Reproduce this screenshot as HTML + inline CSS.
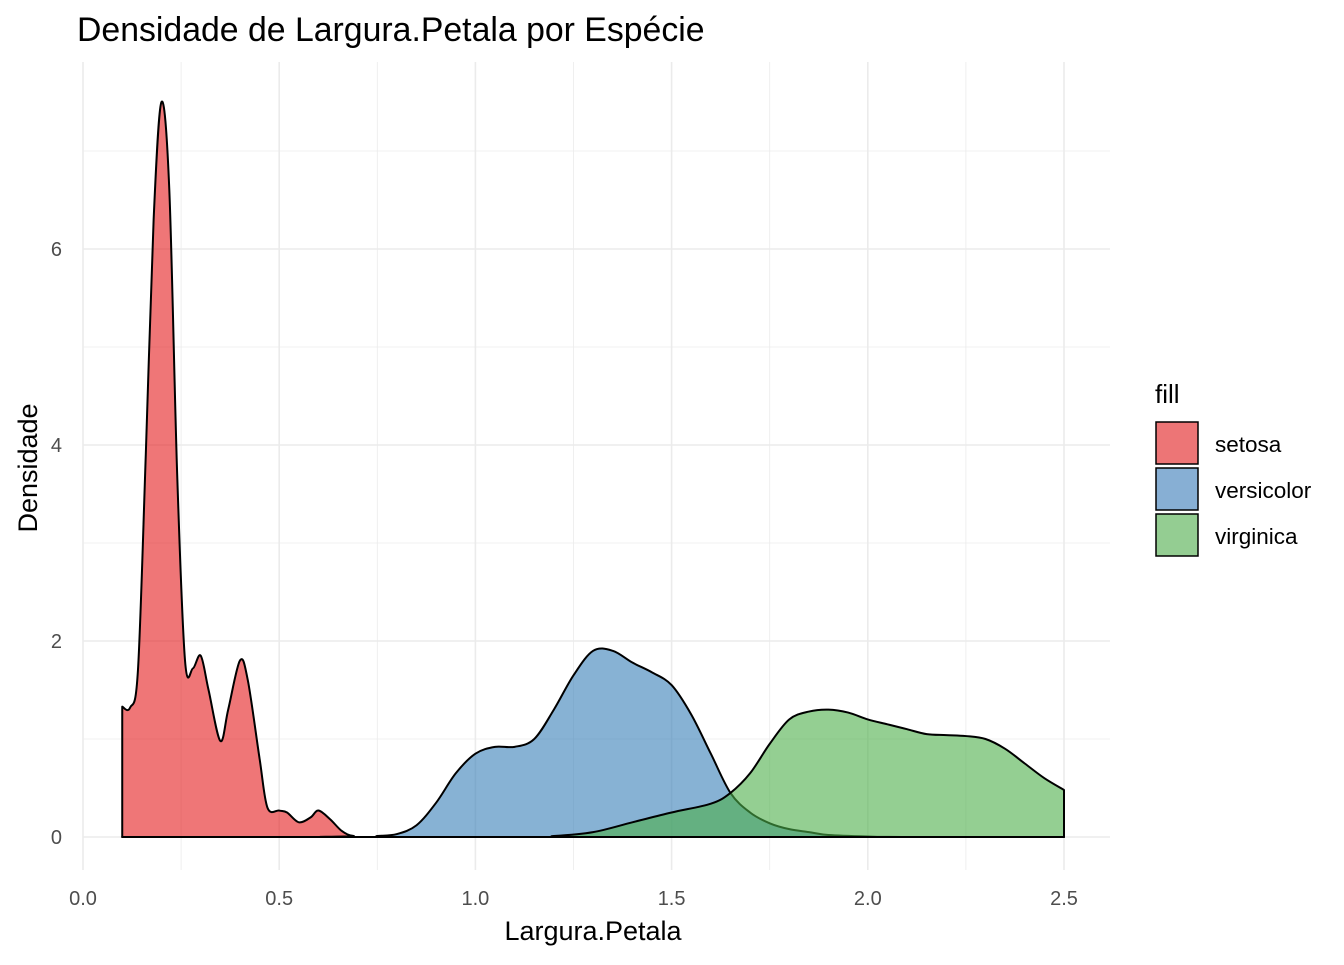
<!DOCTYPE html>
<html><head><meta charset="utf-8"><style>
body{margin:0;background:#fff;}
svg text{font-family:"Liberation Sans",Arial,sans-serif;}
</style></head><body>
<svg id="chart" width="1344" height="960">
<rect width="1344" height="960" fill="#fff"/>
<text x="77" y="41" font-size="33.8" fill="#000">Densidade de Largura.Petala por Espécie</text>
<g id="grid"></g>
<g id="areas"></g>
<g id="axes"></g>
<text x="593" y="940" font-size="27" text-anchor="middle" fill="#000">Largura.Petala</text>
<text transform="translate(37,468) rotate(-90)" font-size="27" text-anchor="middle" fill="#000">Densidade</text>
<g>
<text x="1155" y="403" font-size="26" fill="#000">fill</text>
<g><rect x="1156" y="422" width="42" height="42" fill="#ED7576" stroke="#000" stroke-width="1.5"/><text x="1215" y="452" font-size="22.5">setosa</text></g>
<g><rect x="1156" y="468" width="42" height="42" fill="#87AFD4" stroke="#000" stroke-width="1.5"/><text x="1215" y="498" font-size="22.5">versicolor</text></g>
<g><rect x="1156" y="514" width="42" height="42" fill="#94CD92" stroke="#000" stroke-width="1.5"/><text x="1215" y="544" font-size="22.5">virginica</text></g>
</g>
</svg>
<script>
const setosaX=[0.10,0.12,0.14,0.16,0.18,0.20,0.22,0.24,0.26,0.28,0.30,0.32,0.35,0.37,0.40,0.42,0.45,0.47,0.50,0.52,0.55,0.58,0.60,0.63,0.66,0.69,0.75,2.5];
const setosaY=[1.33,1.32,1.7,3.9,6.3,7.5,6.6,3.7,1.8,1.72,1.85,1.5,0.98,1.3,1.8,1.6,0.8,0.3,0.27,0.25,0.15,0.2,0.27,0.18,0.06,0.01,0,0];
const versiX=[0.1,0.7,0.75,0.8,0.85,0.9,0.95,1.0,1.05,1.1,1.15,1.2,1.25,1.3,1.35,1.4,1.45,1.5,1.55,1.6,1.65,1.7,1.75,1.8,1.85,1.9,2.0,2.1,2.5];
const versiY=[0,0,0.01,0.03,0.12,0.35,0.65,0.85,0.92,0.92,1.0,1.3,1.65,1.9,1.9,1.78,1.68,1.55,1.25,0.85,0.45,0.25,0.14,0.08,0.05,0.02,0.005,0,0];
const virgX=[0.1,1.1,1.2,1.3,1.4,1.5,1.6,1.65,1.7,1.75,1.8,1.85,1.9,1.95,2.0,2.05,2.1,2.15,2.2,2.25,2.3,2.35,2.4,2.45,2.5];
const virgY=[0,0,0.01,0.05,0.15,0.25,0.34,0.45,0.65,0.95,1.2,1.28,1.3,1.27,1.2,1.15,1.1,1.05,1.04,1.03,1.0,0.9,0.75,0.6,0.48];
const xTicks=[0,0.5,1.0,1.5,2.0,2.5];
const xTickLabels=["0.0","0.5","1.0","1.5","2.0","2.5"];
const yTicks=[0,2,4,6];
const yTickLabels=["0","2","4","6"];
const NS="http://www.w3.org/2000/svg";
const sx=v=>83+392.4*v, sy=v=>837-98*v;
const grid=document.getElementById('grid'),areas=document.getElementById('areas'),axes=document.getElementById('axes');
function mk(tag,attrs,parent){const e=document.createElementNS(NS,tag);for(const k in attrs)e.setAttribute(k,attrs[k]);parent.appendChild(e);return e;}
for(let k=0;k<=10;k++){const v=k*0.25;const major=k%2===0;
 const l=mk('line',{x1:sx(v),x2:sx(v),y1:62,y2:870,stroke:'#ebebeb','stroke-width':major?1.6:0.8},grid);
 
 }
for(let v=1;v<=7;v+=2){const l=mk('line',{x1:83,x2:1110,y1:sy(v),y2:sy(v),stroke:'#ebebeb','stroke-width':0.8},grid);
 
 }
yTicks.forEach((t,i)=>{const l=mk('line',{x1:83,x2:1110,y1:sy(t),y2:sy(t),stroke:'#ebebeb','stroke-width':1.6},grid);
 
 
 const tx=mk('text',{x:62,y:sy(t)+7,'font-size':20,'text-anchor':'end',fill:'#4d4d4d'},axes);tx.textContent=yTickLabels[i];
 
 });
xTicks.forEach((t,i)=>{const tx=mk('text',{x:sx(t),y:905,'font-size':20,'text-anchor':'middle',fill:'#4d4d4d'},axes);tx.textContent=xTickLabels[i];
 
 });
function smooth(pts){let d='';for(let i=0;i<pts.length-1;i++){const p0=pts[Math.max(0,i-1)],p1=pts[i],p2=pts[i+1],p3=pts[Math.min(pts.length-1,i+2)];
 const t=6;const c1=[p1[0]+(p2[0]-p0[0])/t,p1[1]+(p2[1]-p0[1])/t];const c2=[p2[0]-(p3[0]-p1[0])/t,p2[1]-(p3[1]-p1[1])/t];
 c1[1]=Math.min(c1[1],837);c2[1]=Math.min(c2[1],837);
 d+=' C'+c1[0]+','+c1[1]+' '+c2[0]+','+c2[1]+' '+p2[0]+','+p2[1];}return d;}
function area(xs,ys,fill,name){const pts=xs.map((x,i)=>[sx(x),sy(ys[i])]);
 let d='M'+sx(xs[0])+','+sy(0)+' L'+pts[0][0]+','+pts[0][1]+smooth(pts)+' L'+sx(xs[xs.length-1])+','+sy(0)+' Z';
 const p=mk('path',{d:d,fill:fill,'fill-opacity':0.6,stroke:'#000','stroke-width':2,'stroke-linejoin':'round'},areas);
 
 }
area(setosaX,setosaY,'#E41A1C','density-setosa');
area(versiX,versiY,'#377EB8','density-versicolor');
area(virgX,virgY,'#4DAF4A','density-virginica');
</script>
</body></html>
